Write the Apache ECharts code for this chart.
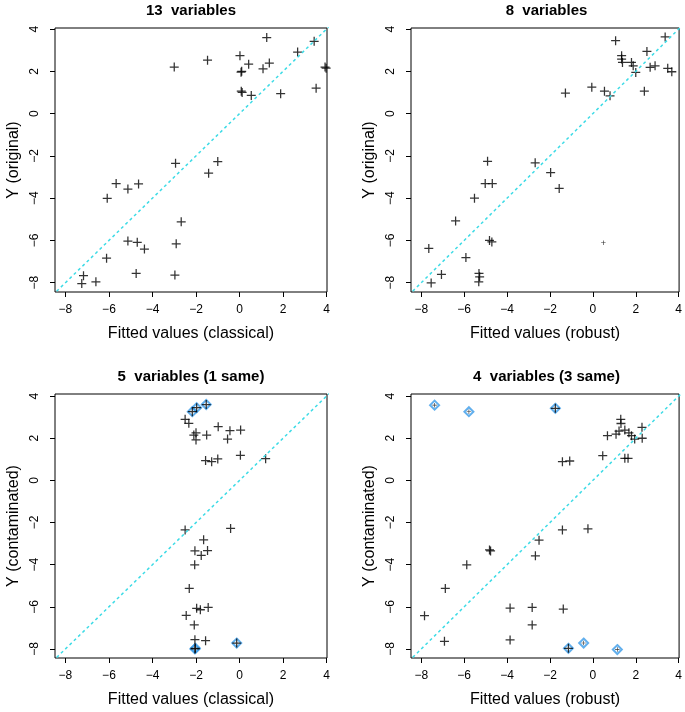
<!DOCTYPE html>
<html>
<head>
<meta charset="utf-8">
<script src="https://cdn.jsdelivr.net/npm/echarts@6/dist/echarts.min.js"></script>
<style>html,body{margin:0;padding:0;background:#fff}#c{width:685px;height:712px}</style>
</head>
<body>
<div id="c"></div>
<script>
// ---- data ----
const tickValues = [-8, -6, -4, -2, 0, 2, 4];
const diagLine = [-9, 5];

const titles = ['13  variables', '8  variables', '5  variables (1 same)', '4  variables (3 same)'];
const xNames = ['Fitted values (classical)', 'Fitted values (robust)', 'Fitted values (classical)', 'Fitted values (robust)'];
const yNames = ['Y (original)', 'Y (original)', 'Y (contaminated)', 'Y (contaminated)'];

// Panel 1: classical fit, original Y
const x1 = [1.25, 3.43, 2.67, 0.02, -1.47, 0.42, 1.37, 1.08, -3.0, 0.07, 0.1, 3.93, 3.98, 3.52, 0.08, 0.12, 0.54, 1.89,
  -2.94, -1.0, -1.42, -5.67, -5.13, -4.64, -6.08, -2.68, -5.13, -4.70, -4.37, -2.91, -6.11, -4.75, -2.97, -7.17, -7.25, -6.6];
const y1 = [3.6, 3.42, 2.91, 2.74, 2.53, 2.34, 2.39, 2.12, 2.2, 1.96, 2.0, 2.2, 2.15, 1.2, 1.06, 1.0, 0.86, 0.94,
  -2.35, -2.27, -2.82, -3.31, -3.57, -3.33, -4.01, -5.12, -6.03, -6.09, -6.41, -6.16, -6.84, -7.56, -7.64, -7.67, -8.04, -7.96];

// Panel 2: robust fit, original Y
const x2 = [1.06, 1.34, 1.34, 1.38, 1.8, 1.88, 2.0, 2.52, 2.67, 2.9, 3.49, 3.68, 3.37, 2.4, -0.05, 0.54, 0.8, -1.28,
  -2.69, -1.97, -1.57, -4.91, -5.02, -4.69, -5.52, -6.4, -4.82, -4.71, -5.92, -7.65, -7.06, -7.54, -5.31, -5.28, -5.32];
const y2 = [3.45, 2.74, 2.58, 2.42, 2.42, 2.26, 1.95, 2.94, 2.19, 2.26, 2.14, 1.98, 3.63, 1.06, 1.25, 1.06, 0.84, 0.97,
  -2.33, -2.79, -3.54, -2.26, -3.31, -3.31, -4.0, -5.08, -6.0, -6.07, -6.81, -6.38, -7.61, -8.01, -7.56, -7.72, -7.96];
const x2small = [0.49];
const y2small = [-6.11];

// Panel 3: classical fit, contaminated Y
const x3 = [-1.53, -1.97, -2.17, -2.5, -2.33, -0.98, -0.44, 0.05, -2.0, -2.1, -1.51, -2.0, -0.55, 0.04, 1.2, -1.56, -1.28, -1.0,
  -2.5, -0.41, -1.65, -2.05, -1.47, -1.76, -2.06, -2.31, -1.97, -1.8, -1.44, -2.45, -2.08, -2.05, -1.56, -2.05, -2.03, -0.13];
const y3 = [3.6, 3.45, 3.26, 2.9, 2.71, 2.55, 2.36, 2.39, 2.26, 2.15, 2.15, 1.92, 1.96, 1.19, 1.03, 0.94, 0.89, 1.02,
  -2.35, -2.28, -2.82, -3.34, -3.33, -3.56, -4.01, -5.13, -6.07, -6.14, -6.03, -6.41, -6.86, -7.56, -7.61, -8.0, -7.97, -7.72];
const out3x = [-1.53, -1.97, -2.17, -2.05, -2.03, -0.13];
const out3y = [3.6, 3.45, 3.26, -8.0, -7.97, -7.72];

// Panel 4: robust fit, contaminated Y
const x4 = [1.3, 1.31, 1.22, 0.68, 1.08, 1.49, 1.68, 1.8, 1.95, 2.29, 2.3, 0.46, 1.49, 1.64, -1.42, -1.08, -1.75, -1.14,
  -1.42, -0.23, -2.51, -2.68, -4.82, -4.77, -5.88, -6.88, -7.85, -6.92, -3.86, -2.83, -1.38, -2.83, -3.86];
const y4 = [2.9, 2.7, 2.34, 2.12, 2.19, 2.39, 2.26, 2.12, 1.96, 2.52, 2.0, 1.17, 1.05, 1.05, 0.89, 0.92, 3.42, -7.97,
  -2.35, -2.3, -2.84, -3.58, -3.3, -3.35, -4.01, -5.13, -6.42, -7.64, -6.06, -6.03, -6.11, -6.86, -7.57];
const x4small = [-7.38, -5.78, -0.43, 1.14];
const y4small = [3.57, 3.26, -7.72, -8.03];
const out4x = [-7.38, -5.78, -1.75, -1.14, -0.43, 1.14];
const out4y = [3.57, 3.26, 3.42, -7.97, -7.72, -8.03];

// ---- build ----
const FONT = 'Liberation Sans, Arial, Helvetica, sans-serif';
const PLUS = 'path://M4.3,0H5.7V4.3H10V5.7H5.7V10H4.3V5.7H0V4.3H4.3Z';
const zip = (a, b) => a.map((v, i) => [v, b[i]]);
const fmt = v => String(v).replace('-', '\u2212');

const grids = [
  {left: 55, top: 28, width: 272, height: 264},
  {left: 411, top: 28, width: 271, height: 264},
  {left: 55, top: 394, width: 272, height: 264},
  {left: 411, top: 394, width: 271, height: 264}
];
const yRanges = [[-8.44, 4.05], [-8.44, 4.05], [-8.43, 4.1], [-8.43, 4.1]];
const titleTops = [3, 3, 369, 369];

const panels = [
  {pts: zip(x1, y1), small: [], out: []},
  {pts: zip(x2, y2), small: zip(x2small, y2small), out: []},
  {pts: zip(x3, y3), small: [], out: zip(out3x, out3y)},
  {pts: zip(x4, y4), small: zip(x4small, y4small), out: zip(out4x, out4y)}
];

const option = {
  animation: false,
  backgroundColor: '#fff',
  title: [], grid: [], xAxis: [], yAxis: [], series: []
};

panels.forEach((p, i) => {
  const g = grids[i];
  option.grid.push(Object.assign({show: true, borderColor: '#000', borderWidth: 1, backgroundColor: 'transparent'}, g));
  option.title.push({
    text: titles[i], left: g.left + g.width / 2, top: titleTops[i], textAlign: 'center', padding: 0,
    textStyle: {fontFamily: FONT, fontSize: 15, fontWeight: 'bold', color: '#000'}
  });
  const axCommon = {
    axisLine: {show: false, onZero: false},
    axisTick: {show: true, customValues: tickValues, length: 5, lineStyle: {color: '#000', width: 1}},
    axisLabel: {customValues: tickValues, formatter: fmt, color: '#000', fontFamily: FONT, fontSize: 12, margin: 12},
    splitLine: {show: false},
    nameLocation: 'middle',
    nameTextStyle: {fontFamily: FONT, fontSize: 16, color: '#000'}
  };
  option.xAxis.push(Object.assign({}, axCommon, {
    type: 'value', gridIndex: i, position: 'bottom', min: -8.48, max: 4.02, name: xNames[i], nameGap: 34
  }));
  option.yAxis.push(Object.assign({}, axCommon, {
    type: 'value', gridIndex: i, position: 'left', min: yRanges[i][0], max: yRanges[i][1], name: yNames[i], nameGap: 33,
    axisLabel: Object.assign({}, axCommon.axisLabel, {rotate: 90, margin: 14})
  }));
  option.series.push({
    type: 'line', xAxisIndex: i, yAxisIndex: i, data: [[diagLine[0], diagLine[0]], [diagLine[1], diagLine[1]]],
    symbol: 'none', clip: true, silent: true,
    lineStyle: {color: '#3ddbe6', width: 1.5, type: [3, 3]}
  });
  if (p.out.length) {
    option.series.push({
      type: 'scatter', xAxisIndex: i, yAxisIndex: i, data: p.out, symbol: 'diamond', symbolSize: 9,
      itemStyle: {color: 'rgba(0,0,0,0)', borderColor: '#3a9be8', borderWidth: 2}, silent: true
    });
  }
  option.series.push({
    type: 'scatter', xAxisIndex: i, yAxisIndex: i, data: p.pts, symbol: PLUS, symbolSize: 9,
    itemStyle: {color: '#000'}, silent: true
  });
  if (p.small.length) {
    option.series.push({
      type: 'scatter', xAxisIndex: i, yAxisIndex: i, data: p.small, symbol: PLUS, symbolSize: 4.5,
      itemStyle: {color: '#000'}, silent: true
    });
  }
});

const chart = echarts.init(document.getElementById('c'), null, {renderer: 'canvas'});
chart.setOption(option);
</script>
</body>
</html>
